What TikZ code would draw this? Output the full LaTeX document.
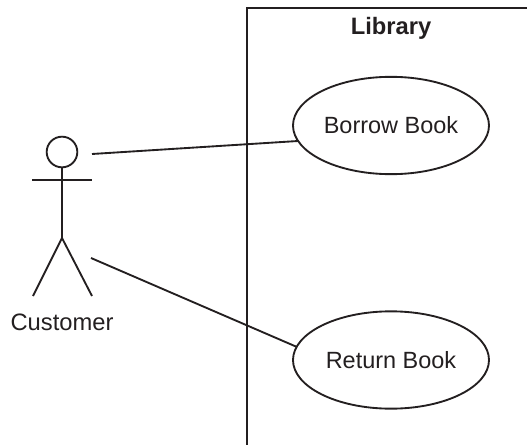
\documentclass[tikz,border=0pt]{standalone}
\usepackage{fontspec}
\setmainfont{Liberation Sans}
\usetikzlibrary{shapes.geometric}
\definecolor{ink}{HTML}{231F20}
\tikzset{
  px/.style={x=0.75pt,y=-0.75pt},
  ln/.style={draw=ink,line width=1.4pt},
  usecase/.style={ellipse,ln,minimum width=147pt,minimum height=73pt,inner sep=0pt,text=ink,font=\fontsize{17.6}{21}\selectfont},
  lab/.style={inner sep=0pt,text=ink,font=\fontsize{17.8}{21}\selectfont}
}
\begin{document}
\begin{tikzpicture}[px]
\useasboundingbox (0,0) rectangle (527,445);
\draw[ln] (247,445) -- (247,8) -- (527,8);
\node[lab,font=\fontsize{17.8}{21}\selectfont\bfseries] (lib) at (391,28) {Library};
\node[usecase] (b) at (391,125.5) {Borrow Book};
\node[usecase] (r) at (391,360) {Return Book};
\node[circle,ln,minimum size=23pt,inner sep=0pt] (head) at (62,152) {};
\coordinate (hip) at (62,238);
\coordinate (armL) at (32,180.2);
\coordinate (armR) at (92,180.2);
\coordinate (footL) at (33,296);
\coordinate (footR) at (92,296);
\draw[ln] (head) -- (hip);
\draw[ln] (armL) -- (armR);
\draw[ln] (footL) -- (hip) -- (footR);
\node[lab] (cust) at (62,322) {Customer};
\coordinate (c1) at (92,154);
\coordinate (c2) at (91,258);
\coordinate (b1) at (298,141);
\coordinate (r1) at (297,347);
\draw[ln] (c1) -- (b1);
\draw[ln] (c2) -- (r1);
\end{tikzpicture}
\end{document}
